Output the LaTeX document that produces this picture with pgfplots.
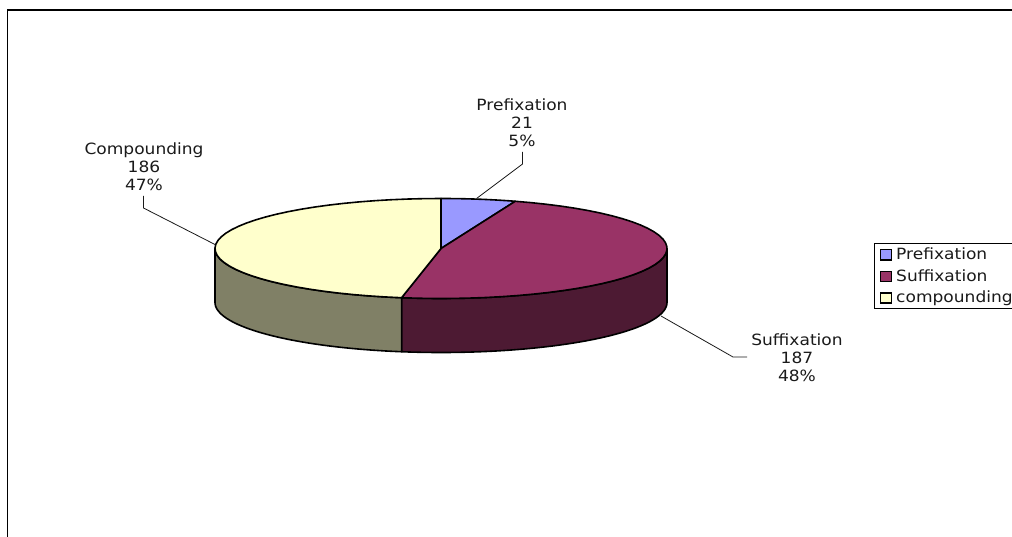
\documentclass[border=0pt]{standalone}
\usepackage{pgfplots}
\pgfplotsset{compat=1.18}
\usepackage{fontspec}
\setmainfont[FakeStretch=1.1]{DejaVu Sans}

% Word-formation counts shown as slices
\def\valA{21}
\def\valB{187}
\def\valC{186}
\pgfmathsetmacro{\total}{\valA+\valB+\valC}
\pgfmathsetmacro{\angA}{\valA/\total*360}
\pgfmathsetmacro{\angB}{(\valA+\valB)/\total*360}

\definecolor{sliceA}{HTML}{9999FF}
\definecolor{sliceB}{HTML}{993366}
\definecolor{sliceC}{HTML}{FFFFCC}
\definecolor{wallB}{HTML}{4D1A33}
\definecolor{wallC}{HTML}{808066}
\definecolor{inktext}{HTML}{1A1A1A}

% Disc geometry, in axis units
\def\cx{441}\def\cy{248.5}\def\rx{226}\def\ry{50}\def\depth{54}

% Collects rim points from angle #1 to #2, offset downward by #3, into \rimpts
\newcommand{\addrim}[3]{%
  \pgfmathsetmacro{\stepsize}{(#2-(#1))/40}%
  \foreach \k in {0,...,40}{%
    \pgfmathsetmacro{\th}{#1+\k*\stepsize}%
    \pgfmathsetmacro{\px}{\cx+\rx*sin(\th)}%
    \pgfmathsetmacro{\py}{\cy-\ry*cos(\th)+#3}%
    \xdef\rimpts{\rimpts (\px,\py)}%
  }%
}
% Plots the list gathered in \rimpts as a closed filled shape
\newcommand{\drawshape}[1]{%
  \edef\tmp{\noexpand\addplot[#1,draw=black,line width=1.6pt,line join=round] coordinates {\rimpts} -- cycle;}%
  \tmp
}

\begin{document}
\begin{tikzpicture}
\path[use as bounding box] (0,0) rectangle (1012pt,537pt);
\begin{axis}[
  at={(0,0)}, anchor=south west,
  scale only axis, width=1012pt, height=537pt,
  xmin=0, xmax=1012, ymin=0, ymax=537, y dir=reverse,
  hide axis, clip=false,
  every axis plot/.append style={mark=none},
]
% Outer frame, open at the right and bottom edges
\addplot[black,line width=1.8pt] coordinates {(7.5,537) (7.5,10) (1012,10)};

% Front walls
\xdef\rimpts{}\addrim{90}{\angB}{0}\addrim{\angB}{90}{\depth}
\drawshape{fill=wallB}
\xdef\rimpts{}\addrim{\angB}{270}{0}\addrim{270}{\angB}{\depth}
\drawshape{fill=wallC}

% Top faces
\xdef\rimpts{(\cx,\cy)}\addrim{0}{\angA}{0}
\drawshape{fill=sliceA}
\xdef\rimpts{(\cx,\cy)}\addrim{\angA}{\angB}{0}
\drawshape{fill=sliceB}
\xdef\rimpts{(\cx,\cy)}\addrim{\angB}{360}{0}
\drawshape{fill=sliceC}

% Leader lines
\addplot[inktext,line width=0.8pt] coordinates {(522.5,152) (522.5,164) (476.5,198.5)};
\addplot[inktext,line width=0.8pt] coordinates {(143.5,196) (143.5,208) (215,244.5)};
\addplot[inktext,line width=0.8pt] coordinates {(747,357) (733,357) (661,316)};

% Data labels
\node[align=center,font=\fontsize{15.5}{18}\selectfont,text=inktext] at (axis cs:522,122.5) {Prefixation\\21\\5\%};
\node[align=center,font=\fontsize{15.5}{18}\selectfont,text=inktext] at (axis cs:144,166.5) {Compounding\\186\\47\%};
\node[align=center,font=\fontsize{15.5}{18}\selectfont,text=inktext] at (axis cs:797,358) {Suffixation\\187\\48\%};

% Legend box and keys
\addplot[black,line width=1pt] coordinates {(1012,243.5) (874,243.5) (874,309) (1012,309)};
\addplot[black,fill=sliceA,line width=1.2pt] coordinates {(880.5,249.5) (891.5,249.5) (891.5,260) (880.5,260)} -- cycle;
\addplot[black,fill=sliceB,line width=1.2pt] coordinates {(880.5,271.5) (891.5,271.5) (891.5,281.5) (880.5,281.5)} -- cycle;
\addplot[black,fill=sliceC,line width=1.2pt] coordinates {(880.5,293) (891.5,293) (891.5,303) (880.5,303)} -- cycle;
\node[anchor=base west,inner sep=0pt,font=\fontsize{15.5}{18}\selectfont,text=inktext] at (axis cs:896,260) {Prefixation};
\node[anchor=base west,inner sep=0pt,font=\fontsize{15.5}{18}\selectfont,text=inktext] at (axis cs:896,281.5) {Suffixation};
\node[anchor=base west,inner sep=0pt,font=\fontsize{15.5}{18}\selectfont,text=inktext] at (axis cs:896,302.7) {compounding};
\end{axis}
\end{tikzpicture}
\end{document}
